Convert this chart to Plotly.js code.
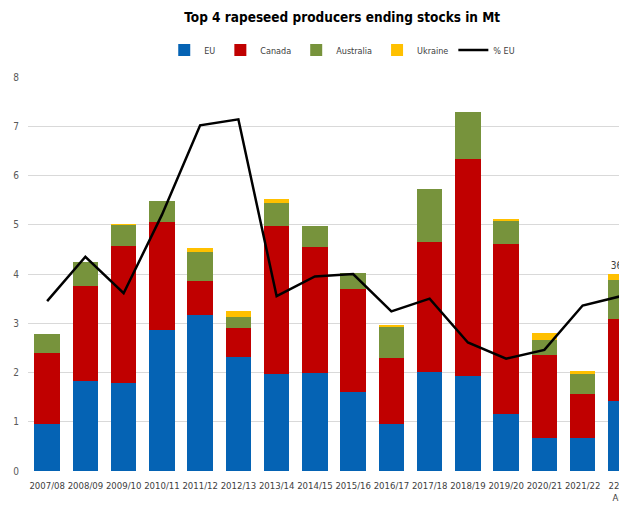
<!DOCTYPE html>
<html>
<head>
<meta charset="utf-8">
<script src="https://cdn.plot.ly/plotly-3.0.1.min.js"></script>
<style>
html,body{margin:0;padding:0;overflow:hidden;background:#fff;width:619px;height:505px;}
#chart{width:690px;height:505px;}
</style>
</head>
<body>
<div id="chart"></div>
<script>
var categories = ['2007/08','2008/09','2009/10','2010/11','2011/12','2012/13','2013/14','2014/15','2015/16','2016/17','2017/18','2018/19','2019/20','2020/21','2021/22','22/23<br>Aug'];
var euStocks = [0.95,1.82,1.79,2.86,3.17,2.31,1.96,1.99,1.60,0.96,2.01,1.92,1.15,0.68,0.68,1.43];
var canadaStocks = [1.44,1.94,2.78,2.19,0.69,0.59,3.01,2.55,2.09,1.33,2.63,4.42,3.46,1.67,0.88,1.66];
var australiaStocks = [0.39,0.48,0.42,0.43,0.59,0.22,0.48,0.43,0.34,0.63,1.08,0.94,0.46,0.31,0.40,0.79];
var ukraineStocks = [0.00,0.00,0.02,0.00,0.08,0.12,0.08,0.00,0.00,0.05,0.00,0.00,0.04,0.15,0.08,0.12];
var euShare = [34.5,43.5,36.1,52,70.2,71.4,35.5,39.5,40,32.4,35,26.1,22.8,24.6,33.6,35.5];
var shareLabels = ['','','','','','','','','','','','','','','','36%'];

var cond = '"DejaVu Sans Condensed", "Liberation Sans", Arial, sans-serif';

var traces = [
  {type:'bar', name:'EU', x:categories, y:euStocks, marker:{color:'#0563B4'}, hoverinfo:'y'},
  {type:'bar', name:'Canada', x:categories, y:canadaStocks, marker:{color:'#C00000'}, hoverinfo:'y'},
  {type:'bar', name:'Australia', x:categories, y:australiaStocks, marker:{color:'#77933C'}, hoverinfo:'y'},
  {type:'bar', name:'Ukraine', x:categories, y:ukraineStocks, marker:{color:'#FFC000'}, hoverinfo:'y',
   text:shareLabels, textposition:'outside', cliponaxis:false,
   textfont:{family:cond, size:10, color:'#404040'}},
  {type:'scatter', mode:'lines', name:'% EU', x:categories, y:euShare, yaxis:'y2',
   line:{color:'#000000', width:2.5}}
];

var layout = {
  width:690, height:505,
  margin:{l:28.4, r:50.4, t:76.5, b:34.3},
  paper_bgcolor:'#ffffff', plot_bgcolor:'#ffffff',
  barmode:'stack', bargap:0.33,
  title:{text:'<b>Top 4 rapeseed producers ending stocks in Mt</b>',
    font:{family:cond, size:13.5, color:'#000000'},
    xref:'container', x:0.496, xanchor:'center',
    yref:'container', y:0.966, yanchor:'middle'},
  showlegend:true,
  legend:{orientation:'h', xref:'container', x:0.496, xanchor:'center',
    yref:'container', y:0.901, yanchor:'middle',
    font:{family:cond, size:9, color:'#404040'},
    itemwidth:30, tracegroupgap:0, traceorder:'normal'},
  xaxis:{type:'category', tickangle:0, tickfont:{family:cond, size:9.5, color:'#404040'},
    showgrid:false, zeroline:false, showline:false, ticks:'', automargin:false,
    ticklabelstandoff:7},
  yaxis:{range:[0,8], dtick:1, tickfont:{family:cond, size:10, color:'#595959'},
    gridcolor:'#D9D9D9', gridwidth:1, zeroline:false, showline:false, ticks:'',
    ticklabelstandoff:8, automargin:false, fixedrange:true},
  yaxis2:{range:[0,80], dtick:10, overlaying:'y', side:'right', showgrid:false,
    zeroline:false, showticklabels:false, automargin:false},
  font:{family:cond}
};

Plotly.newPlot('chart', traces, layout, {displayModeBar:false, staticPlot:true});
</script>
</body>
</html>
